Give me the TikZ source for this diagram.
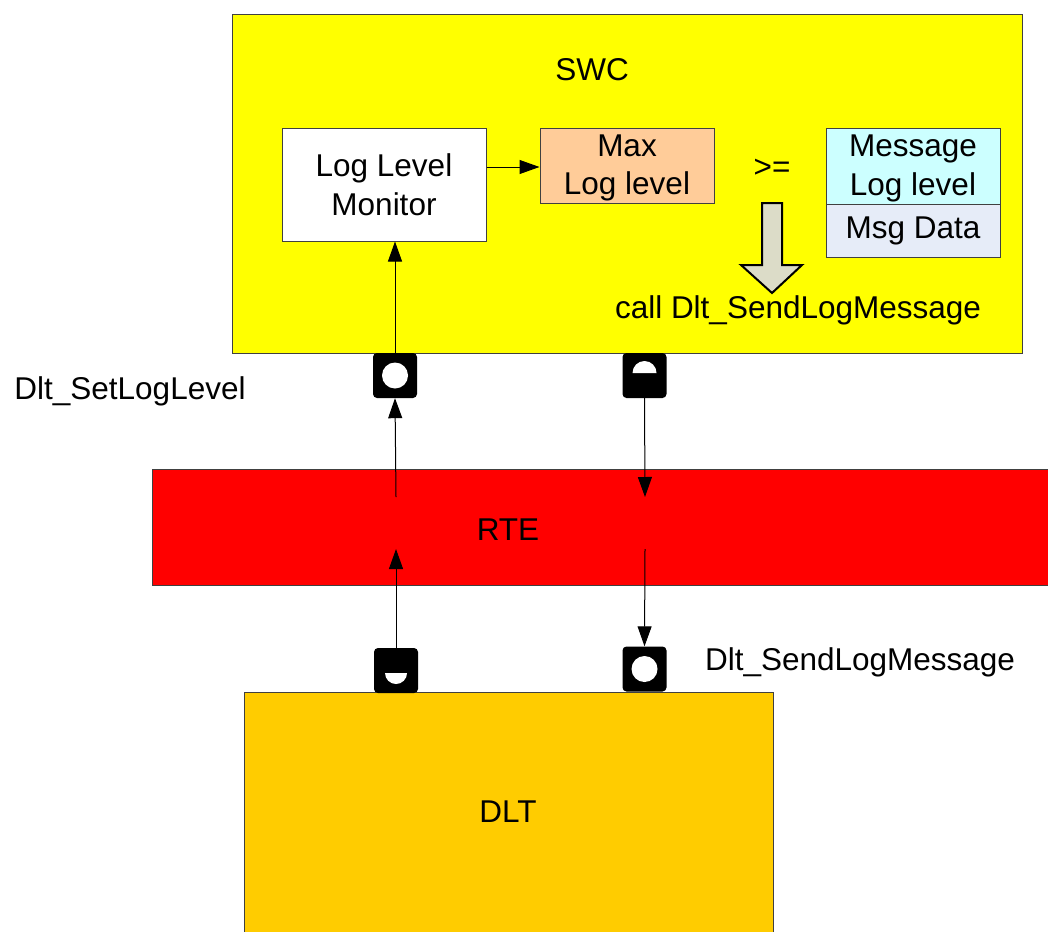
\documentclass[tikz,border=0pt]{standalone}
\usepackage{fontspec}
\setmainfont{Liberation Sans}
\usetikzlibrary{arrows.meta}

\definecolor{swcyellow}{RGB}{255,255,0}
\definecolor{dltorange}{RGB}{255,204,0}
\definecolor{maxpeach}{RGB}{255,204,153}
\definecolor{msgcyan}{RGB}{204,255,255}
\definecolor{msgdata}{RGB}{230,236,248}
\definecolor{bigarrow}{RGB}{220,220,200}
\definecolor{edgegray}{RGB}{64,64,64}

\tikzset{
  box/.style={draw=edgegray, line width=1pt, inner sep=0pt, align=center},
  port/.style={fill=black, rounded corners=4pt, minimum width=44pt, minimum height=45pt, inner sep=0pt},
  conn/.style={line width=1pt, -{Triangle[length=20pt,width=14pt]}},
  txt/.style={font=\fontsize{31.5}{38.5}\selectfont, align=center}
}

\begin{document}
\begin{tikzpicture}[x=1pt,y=-1pt,every node/.append style={font=\fontsize{31.5}{38.5}\selectfont}]

\useasboundingbox (0,0) rectangle (1048,931);
\clip (0,0) rectangle (1048,931);

% the software component
\node[box, fill=swcyellow, minimum width=790pt, minimum height=338pt] (swc) at (627,184) {};
\node[txt] (swclabel) at (592,70) {SWC};

\node[box, fill=white, minimum width=204pt, minimum height=113pt] (llm) at (384,184.5) {Log Level\\Monitor};
\node[box, fill=maxpeach, minimum width=174pt, minimum height=75pt] (maxll) at (627,165.5) {\strut Max\\Log level};
\node[txt] (geq) at (772,168) {>=};
\node[box, fill=msgcyan, minimum width=174pt, minimum height=76pt] (msglvl) at (913,166) {\strut Message\\Log level};
\node[box, fill=msgdata, minimum width=174pt, minimum height=53pt] (msgdat) at (913,230.5) {Msg Data};

\draw[draw=black, line width=2pt, fill=bigarrow, line join=miter]
  (762,203) -- (782,203) -- (782,265) -- (802,265) -- (772,293) -- (741,265) -- (762,265) -- cycle;
\node[txt] (calltxt) at (798,310) {call Dlt\_SendLogMessage};

% runtime environment
\node[box, fill=red, minimum width=910pt, minimum height=116pt] (rte) at (607,527) {};
\node[txt] (rtelabel) at (508,530) {RTE};

% DLT module
\node[box, fill=dltorange, minimum width=529pt, minimum height=270pt] (dlt) at (508.5,827) {};
\node[txt] (dltlabel) at (508,812) {DLT};

% ports
\node[port] (swcL) at (395,375.5) {};
\node[port] (swcR) at (644.5,375.5) {};
\node[port] (dltL) at (396,670.5) {};
\node[port] (dltR) at (644.5,669) {};

\fill[white] (swcL.center) circle (13);
\fill[white] (632.5,373) arc (180:360:12) -- cycle;
\fill[white] (385,673) arc (180:0:11) -- cycle;
\fill[white] (dltR.center) circle (13);

\node[txt] (setlbl) at (130,391) {Dlt\_SetLogLevel};
\node[txt] (sendlbl) at (860,662) {Dlt\_SendLogMessage};

% connectors
\coordinate (rteLlow) at (396,549);
\coordinate (rteLhigh) at (396,497);
\coordinate (rteRhigh) at (645,497);
\coordinate (rteRlow) at (645,549);

\draw[conn] (llm.east |- 0,167) -- (maxll.west |- 0,167);
\draw[conn] (swcL.north) -- (swcL.north |- llm.south);
\draw[conn] (dltL.north) -- (rteLlow);
\draw[conn] (rteLhigh) -- (swcL.south);
\draw[conn] (swcR.south) -- (rteRhigh);
\draw[conn] (rteRlow) -- (dltR.north);

\end{tikzpicture}
\end{document}
